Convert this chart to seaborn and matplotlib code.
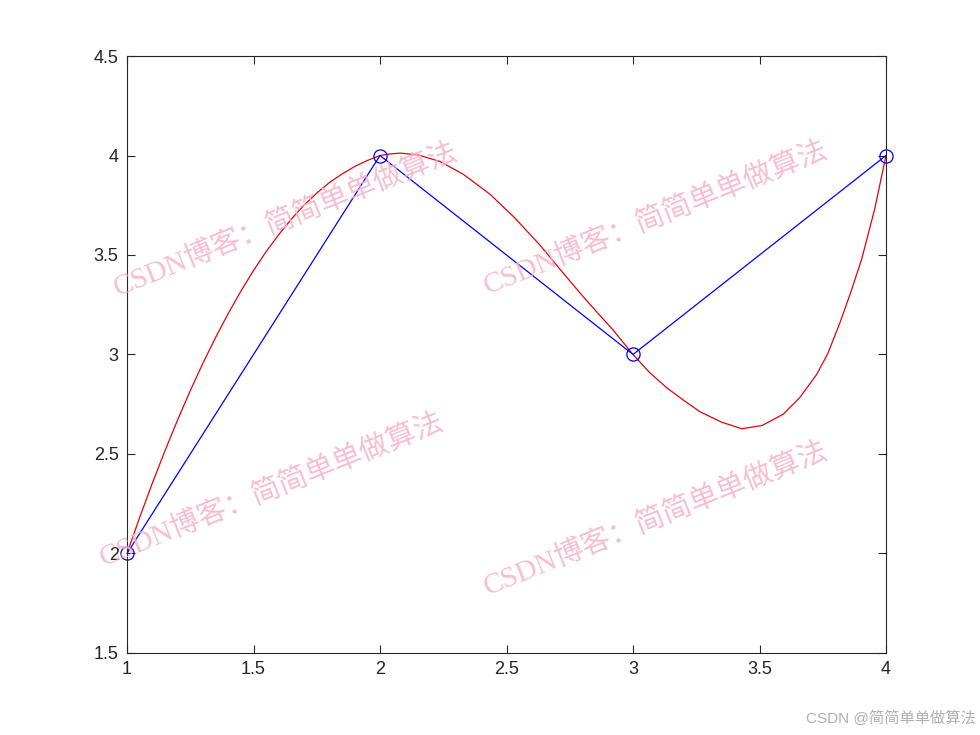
import matplotlib
matplotlib.use("Agg")
import matplotlib.pyplot as plt
import seaborn as sns
import pandas as pd

# data points (blue polyline with circle markers)
pts_x = [1, 2, 3, 4]
pts_y = [2, 4, 3, 4]

# smooth red curve
curve_x = [1.0, 1.05, 1.1, 1.15, 1.2, 1.25, 1.3, 1.35, 1.4, 1.45, 1.5, 1.55, 1.6,
           1.65, 1.7, 1.75, 1.8, 1.85, 1.9, 1.95, 2.0, 2.04, 2.08,
           2.15, 2.237, 2.33, 2.435, 2.53, 2.632, 2.73, 2.8, 2.87, 2.92, 3.0,
           3.065, 3.133, 3.2, 3.265, 3.35, 3.43,
           3.51, 3.594, 3.66, 3.726, 3.77, 3.818, 3.86, 3.904, 3.955, 4.0]
curve_y = [2.0, 2.181, 2.353, 2.516, 2.671, 2.818, 2.956, 3.085, 3.206, 3.318, 3.422, 3.517, 3.603,
           3.681, 3.751, 3.811, 3.864, 3.907, 3.945, 3.975, 4.0, 4.008, 4.012,
           4.003, 3.97, 3.905, 3.805, 3.69, 3.55, 3.40, 3.295, 3.195, 3.125, 3.0,
           2.91, 2.833, 2.77, 2.712, 2.66, 2.627,
           2.643, 2.70, 2.785, 2.90, 3.005, 3.16, 3.31, 3.48, 3.73, 4.0]

xticks = [1, 1.5, 2, 2.5, 3, 3.5, 4]
yticks = [1.5, 2, 2.5, 3, 3.5, 4, 4.5]
watermark = "CSDN博客：简简单单做算法"
wm_pos = [(0.292, 0.70), (0.669, 0.703), (0.278, 0.333), (0.669, 0.293)]

sns.set_style("ticks")
plt.rcParams["font.family"] = ["Liberation Sans", "Noto Sans CJK SC", "DejaVu Sans"]

fig = plt.figure(figsize=(9.8, 7.35), dpi=100)
ax = fig.add_axes([0.1296, 0.1116, 0.7745, 0.8122])

df_curve = pd.DataFrame({"x": curve_x, "y": curve_y})
df_pts = pd.DataFrame({"x": pts_x, "y": pts_y})

sns.lineplot(data=df_curve, x="x", y="y", sort=False, estimator=None,
             color="#e8000b", linewidth=0.9, ax=ax)
sns.lineplot(data=df_pts, x="x", y="y", sort=False, estimator=None,
             color="#0000ff", linewidth=0.9, marker="o", markersize=9.5,
             markerfacecolor="none", markeredgecolor="#0000ff",
             markeredgewidth=0.9, clip_on=False, ax=ax)

ax.set_xlim(1, 4)
ax.set_ylim(1.5, 4.5)
ax.set_xticks(xticks)
ax.set_yticks(yticks)
ax.set_xticklabels([f"{t:g}" for t in xticks])
ax.set_yticklabels([f"{t:g}" for t in yticks])
ax.set_xlabel("")
ax.set_ylabel("")
ax.tick_params(direction="in", length=6, width=0.8, top=True, right=True,
               labelsize=13, colors="#262626", pad=6)
for s in ax.spines.values():
    s.set_visible(True)
    s.set_linewidth(0.8)
    s.set_color("#262626")

# watermarks
for (wx, wy) in wm_pos:
    fig.text(wx, wy, watermark, rotation=22, fontsize=21, color="#f5b3c8",
             alpha=0.85, ha="center", va="center",
             family=["Liberation Serif", "Noto Sans CJK SC"])

fig.text(0.996, 0.023, "CSDN @简简单单做算法", ha="right", va="center",
         fontsize=11, color="#b0b0b0",
         family=["Liberation Sans", "Noto Sans CJK SC"])

fig.savefig("out.png", dpi=100)
